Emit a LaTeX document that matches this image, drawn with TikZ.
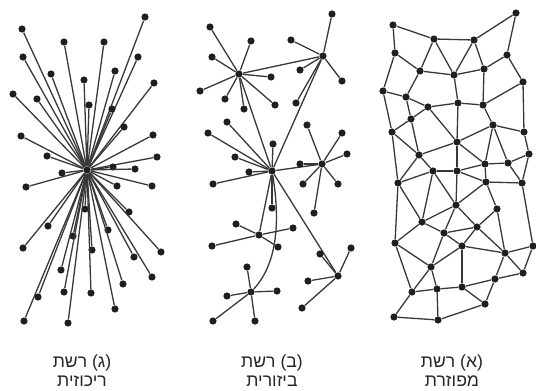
\documentclass[tikz,border=0pt]{standalone}
\usepackage{fontspec}
\newfontfamily\hebfont[Script=Hebrew]{Liberation Sans}
\TeXXeTstate=1
\begin{document}
\begin{tikzpicture}[x=0.5pt,y=-0.5pt,
  dot/.style={circle,fill=black!88,inner sep=0pt,minimum size=3.6pt},
  edge/.style={draw=black!78,line width=0.65pt},
  lbl/.style={font=\hebfont\fontsize{8.8}{9.6}\selectfont,align=center,text=black!85,inner sep=1pt}]
\useasboundingbox (0,0) rectangle (536,391);
% ---------- centralized ----------
\node[dot] (g0) at (87,170) {};
\foreach \x/\y [count=\i] in {145/17,22/29,64/42,104/42,23/57,138/57,51/74,115/71,84/80,154/83,13/94,37/99,89/105,112/109,124/127,21/136,153/135,47/156,157/157,113/167,135/169,62/173,26/187,117/186,152/186,85/209,129/212,48/226,108/230,73/236,23/248,92/250,161/252,134/257,61/270,152/277,123/284,64/292,91/293,38/297,115/309,24/321,68/323}{
  \node[dot] (g\i) at (\x,\y) {};
  \draw[edge] (g0) -- (g\i);
}
% ---------- decentralized ----------
\node[dot] (bA) at (239,74) {};
\node[dot] (bB) at (323,56) {};
\node[dot] (bC) at (272,171) {};
\node[dot] (bD) at (322,164) {};
\node[dot] (bE) at (259,235) {};
\node[dot] (bF) at (251,292) {};
\node[dot] (bG) at (338,276) {};
\draw[edge] (bA) -- (bB);
\draw[edge] (bA) -- (bC);
\draw[edge] (bB) -- (bC);
\draw[edge] (bC) -- (bD);
\draw[edge] (bC) -- (bE);
\draw[edge] (bC) -- (bG);
\draw[edge] (bC) .. controls (281,225) and (276,265) .. (bF);
\foreach \h/\list in {A/{210/27,251/41,212/57,271/77,200/91,225/99,244/109,275/105},
  B/{332/14,291/40,300/70,342/81,296/103},
  C/{227/122,208/133,273/144,235/157,249/172,213/184,272/208},
  D/{300/164,307/125,342/133,347/154,303/184,338/184,314/213},
  E/{236/224,293/228,212/246,278/247},
  F/{247/267,227/296,277/291,213/321,255/321},
  G/{351/248,320/254,308/281,302/308}}{
  \foreach \x/\y [count=\i] in \list {
    \node[dot] (b\h\i) at (\x,\y) {};
    \draw[edge] (b\h) -- (b\h\i);
  }
}
% ---------- distributed ----------
\foreach \x/\y [count=\i] in {393/25,434/39,474/40,516/13,395/53,507/55,420/71,454/75,484/69,523/82,
  383/91,406/97,428/107,458/103,483/105,411/119,493/125,392/132,524/132,457/142,
  419/155,529/154,485/164,508/163,433/171,457/171,398/183,486/182,522/183,456/205,
  497/209,422/222,477/227,444/233,395/243,462/246,505/253,533/246,431/267,523/273,
  495/279,412/292,437/289,462/287,485/304,394/317,438/320}{
  \node[dot] (n\i) at (\x,\y) {};
}
\foreach \a/\b in {1/5,1/2,2/3,3/4,4/6,2/7,2/8,3/8,3/9,5/7,5/11,7/8,8/9,9/6,6/10,9/15,7/12,11/12,12/13,12/16,
  8/14,13/14,14/15,10/15,10/19,11/18,13/16,16/18,16/21,13/20,14/20,15/17,17/20,17/19,18/21,20/21,20/23,
  17/23,17/24,19/22,20/26,21/25,18/27,21/27,25/26,26/23,23/24,24/22,22/29,
  27/25,26/28,23/28,24/29,28/29,25/30,26/30,27/32,25/32,28/30,28/31,29/38,30/32,30/34,30/33,31/33,
  31/37,32/34,32/35,27/35,34/33,34/36,33/36,33/37,36/37,37/38,37/40,38/40,37/41,40/41,34/39,36/39,
  36/44,35/39,35/42,39/42,39/43,42/43,43/44,44/41,44/45,41/45,42/46,43/47,46/47,47/45}{
  \draw[edge] (n\a) -- (n\b);
}
% ---------- labels ----------
\node[lbl] (la) at (452,371) {\beginR (א) רשת\endR\\\beginR מפוזרת\endR};
\node[lbl] (lb) at (272,371) {\beginR (ב) רשת\endR\\\beginR ביזורית\endR};
\node[lbl] (lc) at (82,371) {\beginR (ג) רשת\endR\\\beginR ריכוזית\endR};
\end{tikzpicture}
\end{document}
